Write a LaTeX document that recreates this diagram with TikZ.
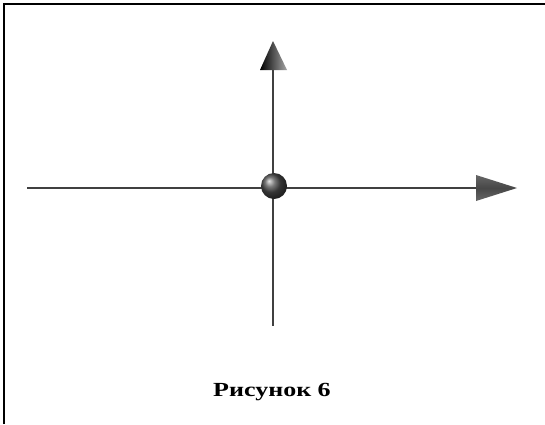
\documentclass[tikz,border=0pt]{standalone}
\usepackage{fontspec}
\setmainfont{Liberation Serif}
\begin{document}
\begin{tikzpicture}[x=1pt,y=-1pt,
  axis/.style={line width=1.6pt,draw=black!75},
  tipshade/.style={left color=black,right color=black!35}]
\useasboundingbox (0,0) rectangle (545,424);
\fill[white] (0,0) rectangle (545,424);
\draw[line width=2pt,black] (4,424) -- (4,4) -- (545,4);
% axes
\coordinate (L) at (27,188);
\coordinate (R) at (477,188);
\coordinate (T) at (273,70);
\coordinate (B) at (273,326);
\draw[axis] (L) -- (R);
\draw[axis] (T) -- (B);
% up arrow head
\path[tipshade] (273,41) -- (287,70) -- (260,70) -- cycle;
% right arrow head
\path[top color=black!60,bottom color=black!60,middle color=black!72] (476,175) -- (517,188) -- (476,201) -- cycle;
% ball
\node[circle,minimum size=26pt,inner sep=0pt,ball color=black!70,shading=ball] (O) at (274,186) {};
% caption
\node[font=\bfseries\fontsize{20}{22}\selectfont,anchor=base,xscale=1.3] (cap) at (272,396) {Рисунок 6};
\end{tikzpicture}
\end{document}
